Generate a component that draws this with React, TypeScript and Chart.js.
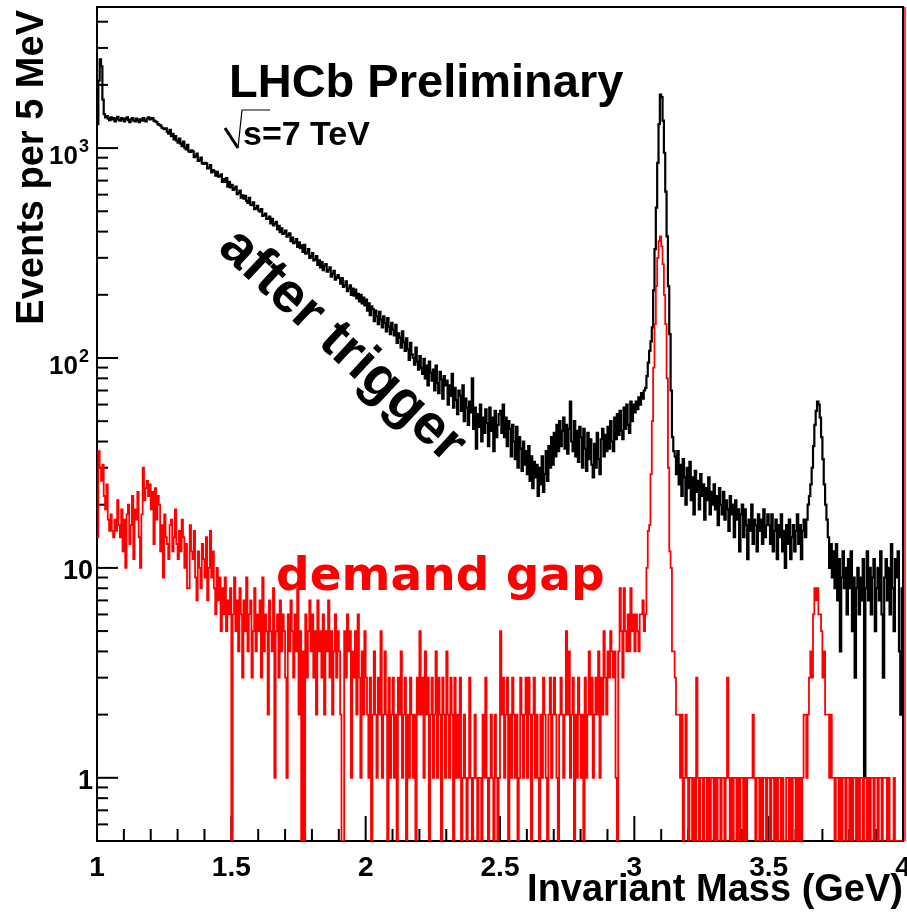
import React, { useEffect, useRef } from "react";
import { Chart, registerables } from "chart.js";

Chart.register(...registerables);

// ---- axis / binning ----
const X_MIN = 1;
const X_MAX = 4;
const BIN_WIDTH = 0.005; // 5 MeV
const Y_MIN = 0.5;
const Y_MAX = 4700;

const xTickValues = [1, 1.5, 2, 2.5, 3, 3.5, 4];
const xTickLabels = ["1", "1.5", "2", "2.5", "3", "3.5", "4"];
const yTickValues = [1, 10, 100, 1000];
const yTickBases = ["1", "10", "10", "10"];
const yTickExponents = ["", "", "2", "3"];

// ---- "after trigger" (black), 5 MeV bins ----
const blackA = [
  1300, 2100, 2650, 2450, 1700, 1450, 1400, 1420, 1380, 1360,
  1400, 1370, 1390, 1340, 1380, 1410, 1360, 1350, 1390, 1370,
  1340, 1380, 1400, 1360, 1330, 1370, 1390, 1350, 1340, 1380,
  1360, 1330, 1370, 1350, 1390, 1360, 1340, 1380, 1400, 1370,
  1380, 1390, 1350, 1340, 1330, 1300, 1290, 1280, 1250, 1240,
  1230, 1240, 1195, 1170, 1220, 1140, 1170, 1100, 1140, 1085,
  1060, 1110, 1050, 1020, 1075, 1005, 985, 1035, 965, 960,
  975, 965, 905, 915, 940, 870, 875, 900, 845, 840,
  850, 845, 800, 805, 830, 765, 785, 775, 740, 770,
  730, 735, 750, 690, 712, 690, 720, 655, 690, 650,
];
const blackB = [
  668, 632, 641, 655, 604, 611, 628, 580, 596, 574,
  592, 560, 548, 580, 538, 535, 552, 512, 518, 530,
  505, 498, 512, 475, 480, 488, 460, 462, 472, 438,
  460, 428, 436, 445, 410, 426, 398, 415, 390, 395,
  405, 378, 386, 392, 360, 375, 352, 356, 368, 338,
  356, 334, 344, 320, 346, 314, 318, 330, 300, 306,
  316, 292, 296, 306, 278, 292, 270, 286, 262, 275,
  280, 258, 262, 270, 244, 252, 260, 236, 242, 248,
  240, 226, 240, 218, 222, 232, 208, 214, 222, 200,
  214, 198, 212, 192, 202, 186, 200, 182, 194, 178,
];
const blackC = [
  190, 168, 182, 160, 176, 171, 150, 168, 158, 145,
  166, 152, 140, 158, 147, 134, 155, 141, 130, 147,
  136, 128, 144, 118, 131, 125, 112, 134, 119, 108,
  124, 110, 98, 118, 104, 100, 93, 112, 96, 88,
  102, 90, 84, 99, 80, 92, 74, 96, 85, 78,
  88, 70, 92, 76, 68, 86, 79, 64, 82, 74,
  78, 60, 74, 66, 84, 58, 72, 63, 54, 70,
  66, 56, 74, 50, 64, 58, 48, 62, 55, 80,
  46, 58, 37, 54, 47, 60, 40, 52, 44, 57,
  49, 38, 58, 45, 52, 36, 56, 42, 48, 54,
];
const blackD = [
  56, 44, 60, 42, 52, 38, 50, 46, 34, 48,
  40, 33, 47, 30, 42, 37, 29, 40, 31, 36,
  28, 38, 26, 34, 24, 32, 27, 31, 22, 30,
  25, 34, 23, 28, 36, 26, 38, 30, 42, 31,
  44, 34, 48, 36, 50, 38, 45, 52, 37, 48,
  35, 46, 62, 40, 36, 50, 34, 45, 32, 47,
  42, 30, 46, 37, 29, 44, 33, 41, 31, 27,
  39, 30, 44, 33, 28, 41, 46, 34, 43, 36,
  47, 37, 50, 40, 36, 52, 41, 54, 43, 56,
  45, 41, 58, 46, 60, 48, 44, 62, 50, 60,
];
const blackE = [
  55, 62, 57, 65, 60, 68, 64, 70, 72, 82,
  95, 108, 120, 140, 210, 330, 520, 850, 1300, 1800,
  1750, 1350, 950, 620, 380, 220, 130, 70, 42, 36,
  34, 28, 36, 25, 31, 22, 33, 27, 20, 30,
  24, 32, 21, 27, 18, 29, 23, 26, 19, 28,
  22, 25, 17, 24, 21, 27, 18, 23, 20, 25,
  19, 22, 16, 24, 20, 18, 23, 17, 21, 19,
  15, 22, 18, 20, 14, 21, 17, 19, 12, 18,
  20, 14, 19, 16, 11, 17, 15, 20, 13, 17,
  16, 12, 18, 15, 17, 13, 19, 14, 16, 18,
];
const blackF = [
  16, 13, 18, 12, 15, 17, 11, 16, 14, 18,
  12, 15, 10, 16, 13, 17, 11, 14, 16, 12,
  15, 18, 13, 16, 11, 15, 17, 14, 17, 20,
  22, 25, 30, 38, 48, 56, 62, 60, 52, 42,
  33, 25, 20, 17, 14, 10, 13, 9, 12, 8,
  13, 7, 11, 4, 9, 12, 8, 10, 6, 11,
  8, 12, 5, 9, 3, 8, 10, 6, 9, 7,
  11, 1, 8, 12, 7, 10, 6, 9, 11, 5,
  8, 10, 7, 12, 6, 3, 9, 11, 7, 10,
  6, 13, 8, 5, 11, 9, 12, 4, 2, 8,
];

// ---- "demand gap" (red), 5 MeV bins ----
const redA = [
  14, 36, 30, 26, 31, 22, 19, 25, 17, 15,
  18, 15, 14, 17, 15, 21, 16, 14, 19, 12,
  17, 10, 18, 20, 13, 16, 22, 11, 19, 17,
  23, 14, 10, 18, 30, 21, 24, 26, 22, 25,
  19, 23, 13, 24, 17, 22, 20, 12, 16, 9,
  18, 14, 13, 11, 16, 17, 12, 14, 19, 13,
  11, 15, 12, 17, 14, 10, 13, 8, 8, 16,
  12, 11, 15, 9, 7, 12, 10, 8, 13, 11,
  9, 14, 7, 10, 15, 9, 12, 8, 6, 10,
  7, 9, 5, 8, 6, 9, 5, 7, 6, 8,
];
const redB = [
  0, 6, 9, 5, 7, 4, 8, 6, 3, 7,
  5, 9, 4, 6, 7, 3, 5, 8, 4, 6,
  5, 7, 3, 9, 4, 6, 5, 2, 7, 5,
  4, 8, 1, 5, 6, 3, 7, 4, 6, 5,
  3, 1, 6, 4, 7, 5, 3, 6, 4, 8,
  2, 5, 0, 4, 0, 6, 3, 5, 7, 4,
  6, 3, 5, 2, 7, 4, 5, 3, 6, 2,
  5, 4, 7, 3, 5, 2, 4, 6, 3, 5,
  4, 2, 0, 0, 5, 3, 6, 4, 5, 1,
  4, 3, 5, 2, 6, 3, 1, 4, 2, 5,
];
const redC = [
  3, 2, 1, 3, 0, 2, 4, 2, 1, 3,
  2, 5, 1, 2, 4, 2, 0, 3, 1, 2,
  3, 1, 2, 0, 3, 2, 4, 1, 2, 3,
  0, 2, 1, 3, 2, 1, 2, 0, 3, 2,
  5, 2, 3, 1, 4, 2, 3, 0, 2, 3,
  1, 2, 4, 1, 3, 2, 0, 3, 2, 1,
  4, 2, 1, 3, 2, 0, 3, 1, 2, 1,
  3, 0, 1, 2, 1, 0, 1, 3, 1, 0,
  1, 2, 1, 0, 1, 1, 0, 2, 1, 3,
  1, 0, 1, 2, 1, 0, 2, 1, 0, 1,
];
const redD = [
  5, 2, 3, 1, 2, 3, 0, 2, 1, 3,
  2, 1, 2, 0, 1, 3, 2, 1, 2, 3,
  1, 3, 2, 0, 2, 3, 1, 2, 1, 0,
  2, 1, 3, 2, 1, 0, 2, 3, 1, 2,
  3, 2, 1, 0, 2, 3, 2, 1, 2, 5,
  2, 4, 1, 2, 3, 0, 2, 1, 3, 2,
  1, 2, 0, 3, 1, 2, 4, 2, 3, 1,
  2, 3, 2, 4, 1, 3, 2, 5, 3, 2,
  4, 3, 5, 4, 3, 4, 1, 0, 4, 8,
  5, 3, 8, 5, 4, 6, 4, 8, 5, 6,
];
const redE = [
  4, 6, 5, 4, 6, 6, 7, 5, 6, 10,
  15, 16, 28, 50, 90, 145, 220, 300, 360, 380,
  340, 280, 200, 145, 80, 30, 12, 10, 4, 4,
  3, 2, 2, 2, 1, 2, 0, 1, 2, 1,
  0, 1, 1, 0, 1, 0, 3, 1, 0, 1,
  1, 0, 1, 1, 0, 1, 0, 1, 1, 0,
  1, 0, 1, 1, 0, 1, 1, 0, 1, 3,
  1, 0, 1, 0, 1, 1, 0, 1, 0, 1,
  1, 0, 1, 0, 1, 1, 1, 1, 2, 1,
  0, 1, 1, 0, 1, 0, 1, 1, 0, 1,
];
const redF = [
  1, 0, 1, 1, 0, 1, 0, 1, 1, 0,
  1, 0, 0, 1, 1, 0, 1, 0, 1, 1,
  0, 1, 0, 1, 0, 1, 2, 2, 1, 2,
  3, 4, 3, 6, 8, 7, 8, 6, 6, 5,
  3, 4, 2, 2, 2, 1, 2, 1, 1, 0,
  1, 1, 0, 1, 0, 1, 1, 0, 1, 1,
  0, 1, 0, 1, 1, 0, 1, 0, 1, 1,
  0, 1, 1, 0, 1, 0, 1, 1, 0, 1,
  1, 0, 1, 1, 0, 1, 1, 1, 0, 1,
  0, 0, 0, 1, 0, 0, 0, 0, 0, 0,
];

const blackCounts = [...blackA, ...blackB, ...blackC, ...blackD, ...blackE, ...blackF];
const redCounts = [...redA, ...redB, ...redC, ...redD, ...redE, ...redF];

const FONT = '"Liberation Sans", Arial, Helvetica, sans-serif';

function toSteps(counts: number[]) {
  const pts = counts.map((v, i) => ({ x: X_MIN + i * BIN_WIDTH, y: v > 0 ? v : Y_MIN }));
  pts.push({ x: X_MAX, y: pts[pts.length - 1].y });
  return pts;
}

const rootStylePlugin = {
  id: "rootStyle",
  beforeDatasetsDraw(chart: any) {
    const { ctx, chartArea: a, scales } = chart;
    const xs = scales.x;
    const ys = scales.y;
    ctx.save();
    // frame
    ctx.strokeStyle = "#000";
    ctx.lineWidth = 2;
    ctx.strokeRect(a.left, a.top, a.right - a.left, a.bottom - a.top);

    // x ticks (inside, pointing up)
    for (let k = 0; k <= 30; k++) {
      const v = X_MIN + k * 0.1;
      const px = xs.getPixelForValue(v);
      const len = k % 5 === 0 ? 25 : 12;
      ctx.beginPath();
      ctx.moveTo(px, a.bottom);
      ctx.lineTo(px, a.bottom - len);
      ctx.stroke();
    }
    // y ticks (inside, pointing right)
    const decades = [0.1, 1, 10, 100, 1000];
    for (const d of decades) {
      for (let m = 1; m <= 9; m++) {
        const v = m * d;
        if (v < Y_MIN || v > Y_MAX) continue;
        const py = ys.getPixelForValue(v);
        const len = m === 1 ? 21 : 11;
        ctx.beginPath();
        ctx.moveTo(a.left, py);
        ctx.lineTo(a.left + len, py);
        ctx.stroke();
      }
    }

    // x tick labels
    ctx.fillStyle = "#000";
    ctx.font = `bold 28px ${FONT}`;
    ctx.textAlign = "center";
    ctx.textBaseline = "alphabetic";
    xTickValues.forEach((v, i) => {
      ctx.fillText(xTickLabels[i], xs.getPixelForValue(v), a.bottom + 35);
    });

    // y tick labels
    yTickValues.forEach((v, i) => {
      const py = ys.getPixelForValue(v);
      if (yTickExponents[i]) {
        ctx.font = `bold 26px ${FONT}`;
        ctx.textAlign = "right";
        ctx.fillText(yTickBases[i], a.left - 19, py + 16);
        ctx.font = `bold 18px ${FONT}`;
        ctx.textAlign = "left";
        ctx.fillText(yTickExponents[i], a.left - 18, py + 4);
      } else {
        ctx.font = `bold 27px ${FONT}`;
        ctx.textAlign = "right";
        ctx.fillText(yTickBases[i], a.left - 4, py + 11);
      }
    });

    // axis titles
    ctx.font = `bold 38px ${FONT}`;
    ctx.textAlign = "right";
    ctx.fillText("Invariant Mass (GeV)", a.right, a.bottom + 60);
    ctx.save();
    ctx.translate(43, a.top + 3);
    ctx.rotate(-Math.PI / 2);
    ctx.textAlign = "right";
    ctx.fillText("Events per 5 MeV", 0, 0);
    ctx.restore();
    ctx.restore();
  },
  afterDatasetsDraw(chart: any) {
    const { ctx, chartArea: a } = chart;
    ctx.save();
    // red edge line on the right
    ctx.strokeStyle = "#ff0000";
    ctx.lineWidth = 1.5;
    ctx.beginPath();
    ctx.moveTo(a.right + 2, a.top);
    ctx.lineTo(a.right + 2, a.bottom);
    ctx.stroke();

    // LHCb Preliminary
    ctx.fillStyle = "#000";
    ctx.textAlign = "left";
    ctx.textBaseline = "alphabetic";
    ctx.font = `bold 47px ${FONT}`;
    ctx.fillText("LHCb Preliminary", 229, 97);

    // sqrt(s) = 7 TeV
    ctx.font = `bold 34px ${FONT}`;
    ctx.fillText("s=7 TeV", 243, 145);
    ctx.strokeStyle = "#000";
    ctx.lineWidth = 3;
    ctx.beginPath();
    ctx.moveTo(225, 128);
    ctx.lineTo(238, 148);
    ctx.stroke();
    ctx.lineWidth = 1.2;
    ctx.beginPath();
    ctx.moveTo(238, 148);
    ctx.lineTo(242, 110);
    ctx.lineTo(270, 110);
    ctx.stroke();

    // after trigger
    ctx.save();
    ctx.translate(342, 346);
    ctx.rotate((43 * Math.PI) / 180);
    ctx.textAlign = "center";
    ctx.textBaseline = "middle";
    ctx.font = `bold 56px ${FONT}`;
    ctx.fillText("after trigger", 0, 0);
    ctx.restore();

    // demand gap
    ctx.fillStyle = "#ff0000";
    ctx.font = `bold 47px "DejaVu Sans", ${FONT}`;
    ctx.textAlign = "left";
    ctx.fillText("demand gap", 276, 590);
    ctx.restore();
  },
};

export default function App() {
  const canvasRef = useRef<HTMLCanvasElement | null>(null);

  useEffect(() => {
    if (!canvasRef.current) return;
    const chart = new Chart(canvasRef.current, {
      type: "line",
      data: {
        datasets: [
          {
            label: "demand gap",
            data: toSteps(redCounts),
            borderColor: "#ff0000",
            borderWidth: 1.8,
            stepped: true,
            pointRadius: 0,
            fill: false,
            borderJoinStyle: "miter",
          },
          {
            label: "after trigger",
            data: toSteps(blackCounts),
            borderColor: "#000000",
            borderWidth: 2.2,
            stepped: true,
            pointRadius: 0,
            fill: false,
            borderJoinStyle: "miter",
          },
        ],
      },
      options: {
        animation: false,
        responsive: false,
        devicePixelRatio: 1,
        layout: { padding: { left: 97, top: 7, right: 4, bottom: 71 } },
        plugins: { legend: { display: false }, tooltip: { enabled: false } },
        scales: {
          x: { type: "linear", min: X_MIN, max: X_MAX, display: false },
          y: { type: "logarithmic", min: Y_MIN, max: Y_MAX, display: false },
        },
      },
      plugins: [rootStylePlugin],
    } as any);
    return () => chart.destroy();
  }, []);

  return (
    <div style={{ position: "absolute", left: 0, top: 0, width: 907, height: 912, background: "#fff" }}>
      <canvas ref={canvasRef} width={907} height={912} style={{ display: "block" }} />
    </div>
  );
}
